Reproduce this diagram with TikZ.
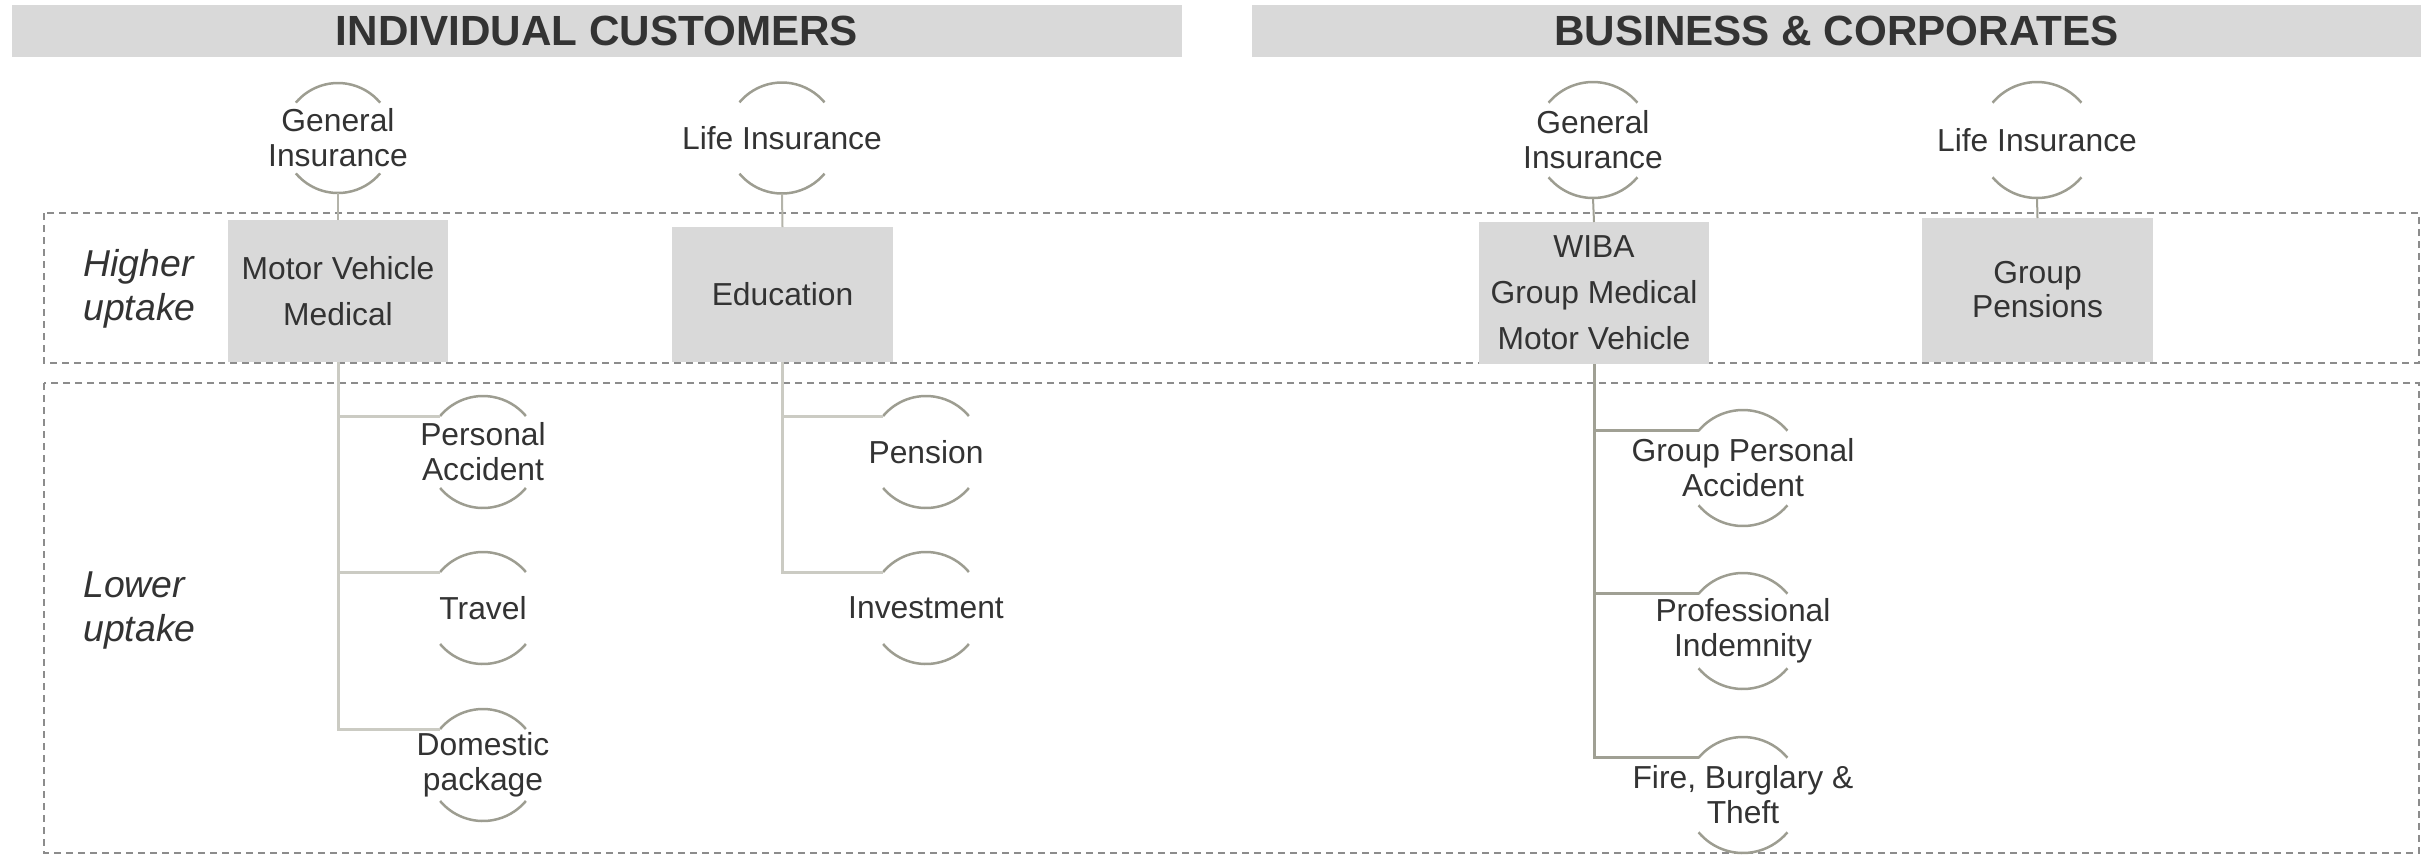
\documentclass[tikz,border=0pt]{standalone}
\usepackage{fontspec}
\setmainfont{Liberation Sans}
\definecolor{boxg}{HTML}{D9D9D9}
\definecolor{txtc}{HTML}{333333}
\definecolor{arcc}{HTML}{9D9D91}
\definecolor{connA}{HTML}{B4B4AA}
\definecolor{connL}{HTML}{CBCBC3}
\definecolor{connB}{HTML}{A0A094}
\definecolor{dashc}{HTML}{8C8C8C}
\begin{document}
\begin{tikzpicture}[x=0.5pt,y=-0.5pt,
  hdr/.style={fill=boxg, inner sep=0pt, outer sep=0pt, text=txtc, font=\fontsize{21.1}{24}\selectfont\bfseries},
  dashbox/.style={draw=dashc, line width=1pt, dash pattern=on 3.5pt off 2.5pt},
  lab/.style={text=txtc, inner sep=0pt, align=left, font=\fontsize{18.7}{22}\selectfont\itshape},
  gbox/.style={fill=boxg, inner sep=0pt, outer sep=0pt, text=txtc, align=center, font=\fontsize{15.9}{23}\selectfont},
  ringtxt/.style={text=txtc, inner sep=0pt, align=center, font=\fontsize{15.9}{17.5}\selectfont},
  ring/.style 2 args={circle, minimum size=#1, inner sep=0pt, outer sep=0pt, label={[ringtxt]center:#2}},
  arcline/.style={draw=arcc, line width=1.25pt},
  connup/.style={draw=connA, line width=1pt},
  connlo/.style={draw=connL, line width=1.5pt},
  connbz/.style={draw=connB, line width=1.5pt}
]
\useasboundingbox (0,0) rectangle (2433,859);
% headers
\node[hdr, minimum width=585pt, minimum height=26pt] (h1) at (597,31) {INDIVIDUAL CUSTOMERS};
\node[hdr, minimum width=584.5pt, minimum height=26pt] (h2) at (1836.5,31) {BUSINESS \& CORPORATES};
% dashed bands
\draw[dashbox] (44,213) rectangle (2419,363);
\draw[dashbox] (44,383) rectangle (2419,853);
\node[lab, anchor=west] (hl) at (83,289) {Higher\\uptake};
\node[lab, anchor=west] (ll) at (83,611) {Lower\\uptake};
% rings
\node[ring={55pt}{General\\Insurance}] (gi1) at (338,138) {};
\node[ring={55.5pt}{Life Insurance}] (li1) at (782,138) {};
\node[ring={58pt}{General\\Insurance}] (gi2) at (1593,140) {};
\node[ring={58pt}{Life Insurance}] (li2) at (2037,140) {};
\node[ring={56pt}{Personal\\Accident}] (pa) at (483,452) {};
\node[ring={56pt}{Travel}] (tr) at (483,608) {};
\node[ring={56pt}{Domestic\\package}] (dp) at (483,765) {};
\node[ring={56pt}{Pension}] (pe) at (926,452) {};
\node[ring={56pt}{Investment}] (iv) at (926,608) {};
\node[ring={58pt}{Group Personal\\Accident}] (gp) at (1743,468) {};
\node[ring={58pt}{Professional\\Indemnity}] (pi) at (1743,631) {};
\node[ring={58pt}{Fire, Burglary \&\\Theft}] (fb) at (1743,795) {};
\foreach \n/\r in {gi1/27.5pt, li1/27.75pt, gi2/29pt, li2/29pt, pa/28pt, tr/28pt, dp/28pt, pe/28pt, iv/28pt, gp/29pt, pi/29pt, fb/29pt}{
  \draw[arcline] (\n.140) arc[start angle=140, end angle=40, radius=\r];
  \draw[arcline] (\n.220) arc[start angle=220, end angle=320, radius=\r];
}
% boxes
\node[gbox, minimum width=110pt, minimum height=71pt] (b1) at (338,291) {Motor Vehicle\\Medical};
\node[gbox, minimum width=110.5pt, minimum height=67.5pt] (b2) at (782.5,294.5) {Education};
\node[gbox, minimum width=115pt, minimum height=71pt] (b3) at (1594,293) {WIBA\\Group Medical\\Motor Vehicle};
\node[gbox, minimum width=115.5pt, minimum height=72pt, font=\fontsize{15.9}{17}\selectfont] (b4) at (2037.5,290) {Group\\Pensions};
% connectors
\draw[connup] (gi1.south) -- (b1.north);
\draw[connup] (li1.south) -- (b2.north);
\draw[connbz, line width=1pt] (gi2.south) -- (b3.north);
\draw[connbz, line width=1pt] (li2.south) -- (b4.north);
\draw[connlo] (b1.south) |- (pa.140);
\draw[connlo] (b1.south) |- (tr.140);
\draw[connlo] (b1.south) |- (dp.140);
\draw[connlo] (b2.south) |- (pe.140);
\draw[connlo] (b2.south) |- (iv.140);
\draw[connbz] (b3.south) |- (gp.140);
\draw[connbz] (b3.south) |- (pi.140);
\draw[connbz] (b3.south) |- (fb.140);
\end{tikzpicture}
\end{document}
